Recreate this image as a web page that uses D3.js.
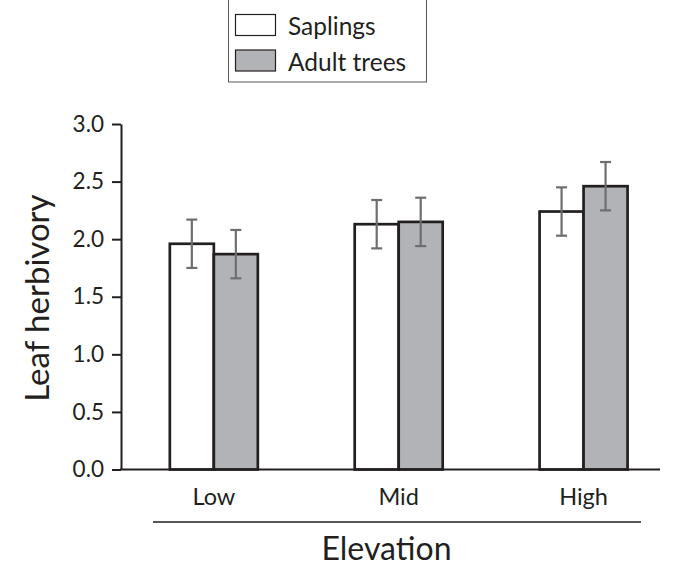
<!DOCTYPE html>
<html>
<head>
<meta charset="utf-8">
<script src="https://cdn.jsdelivr.net/npm/d3@7"></script>
<style>
  html, body { margin: 0; padding: 0; background: #fff; }
  svg { display: block; }
  text { font-family: Lato, "Open Sans", sans-serif; fill: #231f20; }
</style>
</head>
<body>
<svg id="chart" width="680" height="565"></svg>
<script>
const categories = ["Low", "Mid", "High"];
const seriesNames = ["Saplings", "Adult trees"];
const saplings = [1.96, 2.13, 2.24];
const adults = [1.87, 2.15, 2.46];
const saplingsErr = [0.21, 0.21, 0.21];
const adultsErr = [0.21, 0.21, 0.21];
const yTicks = [0, 0.5, 1.0, 1.5, 2.0, 2.5, 3.0];
const yTitle = "Leaf herbivory";
const xTitle = "Elevation";

const fills = { "Saplings": "#ffffff", "Adult trees": "#b2b3b6" };
const ink = "#231f20";

const svg = d3.select("#chart");

const y = d3.scaleLinear().domain([0, 3]).range([469.5, 124]);
const x0 = d3.scaleBand().domain(categories).range([121.4, 676]).padding(0);
const x1 = d3.scaleBand().domain(seriesNames).range([0, 88]).padding(0);

const rows = categories.map((c, i) => ({
  cat: c,
  vals: [
    { s: "Saplings", v: saplings[i], e: saplingsErr[i] },
    { s: "Adult trees", v: adults[i], e: adultsErr[i] }
  ]
}));

// bars
const groups = svg.append("g").selectAll("g").data(rows).join("g")
  .attr("transform", d => `translate(${x0(d.cat) + x0.bandwidth() / 2 - 44},0)`);

groups.selectAll("rect").data(d => d.vals).join("rect")
  .attr("x", d => x1(d.s))
  .attr("y", d => y(d.v))
  .attr("width", x1.bandwidth())
  .attr("height", d => y(0) - y(d.v))
  .attr("fill", d => fills[d.s])
  .attr("stroke", ink)
  .attr("stroke-width", 2.7);

// error bars
const eb = groups.selectAll("g.err").data(d => d.vals).join("g").attr("class", "err")
  .attr("stroke", "#6d6e71").attr("stroke-width", 2.2);
eb.append("line")
  .attr("x1", d => x1(d.s) + x1.bandwidth() / 2)
  .attr("x2", d => x1(d.s) + x1.bandwidth() / 2)
  .attr("y1", d => y(d.v + d.e))
  .attr("y2", d => y(d.v - d.e));
eb.append("line")
  .attr("x1", d => x1(d.s) + x1.bandwidth() / 2 - 5.5)
  .attr("x2", d => x1(d.s) + x1.bandwidth() / 2 + 5.5)
  .attr("y1", d => y(d.v + d.e))
  .attr("y2", d => y(d.v + d.e));
eb.append("line")
  .attr("x1", d => x1(d.s) + x1.bandwidth() / 2 - 5.5)
  .attr("x2", d => x1(d.s) + x1.bandwidth() / 2 + 5.5)
  .attr("y1", d => y(d.v - d.e))
  .attr("y2", d => y(d.v - d.e));

// y axis
const yAxis = svg.append("g")
  .attr("transform", "translate(121,0)")
  .call(d3.axisLeft(y).tickValues(yTicks).tickFormat(d3.format(".1f"))
    .tickSize(9).tickSizeOuter(0).tickPadding(8));
yAxis.selectAll("path, line").attr("stroke", ink).attr("stroke-width", 2);
yAxis.selectAll("text").attr("font-size", 22.5).attr("font-family", "Lato").attr("fill", ink);

// x axis baseline
svg.append("line")
  .attr("x1", 120).attr("x2", 660)
  .attr("y1", y(0)).attr("y2", y(0))
  .attr("stroke", ink).attr("stroke-width", 2);

// category labels
const xAxis = svg.append("g")
  .attr("transform", `translate(0,${y(0)})`)
  .call(d3.axisBottom(x0).tickSize(0).tickPadding(19));
xAxis.select(".domain").remove();
xAxis.selectAll("text").attr("font-size", 23.5).attr("font-family", "Lato").attr("fill", ink);

// underline
svg.append("line")
  .attr("x1", 153).attr("x2", 641)
  .attr("y1", 522).attr("y2", 522)
  .attr("stroke", ink).attr("stroke-width", 1.6);

// axis titles
svg.append("text")
  .attr("x", 386.5).attr("y", 559.5)
  .attr("text-anchor", "middle")
  .attr("font-size", 32)
  .text(xTitle);

svg.append("text")
  .attr("transform", "translate(49,298) rotate(-90)")
  .attr("text-anchor", "middle")
  .attr("font-size", 33)
  .text(yTitle);

// legend
const lg = svg.append("g");
lg.append("rect")
  .attr("x", 228.5).attr("y", -0.5).attr("width", 198).attr("height", 82.5)
  .attr("fill", "#fff").attr("stroke", "#58595b").attr("stroke-width", 1);
const items = lg.selectAll("g.item").data(seriesNames).join("g").attr("class", "item")
  .attr("transform", (d, i) => `translate(0,${i * 35.5})`);
items.append("rect")
  .attr("x", 235.5).attr("y", 14.5).attr("width", 40).attr("height", 21)
  .attr("fill", d => fills[d]).attr("stroke", ink).attr("stroke-width", 1.2);
items.append("text")
  .attr("x", 288).attr("y", 35)
  .attr("font-size", 24.5)
  .text(d => d);
</script>
</body>
</html>
